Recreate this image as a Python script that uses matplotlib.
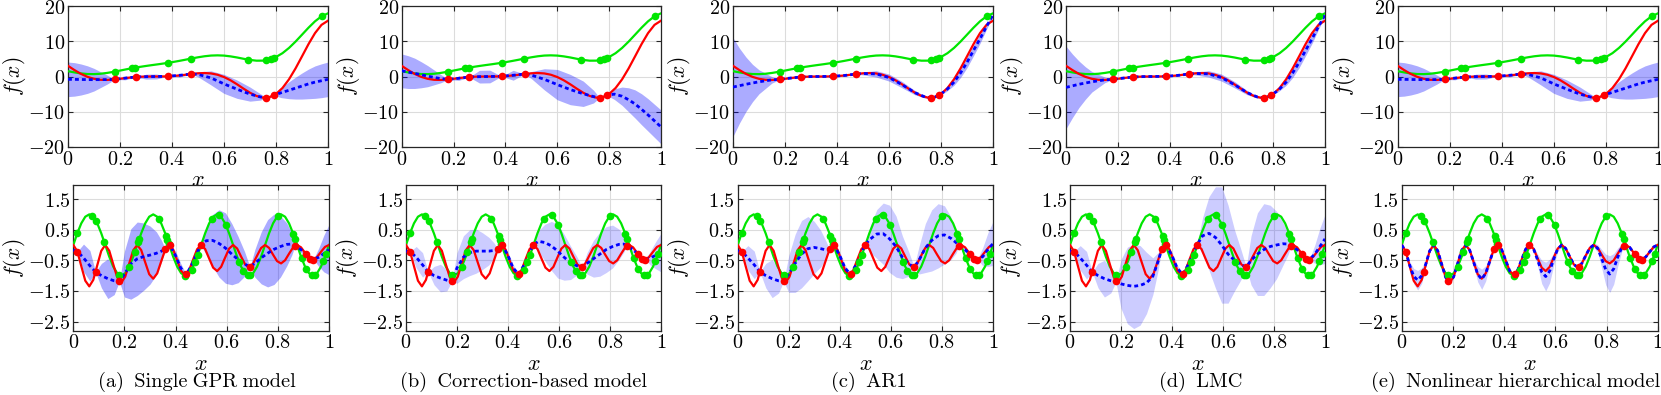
import numpy as np
import matplotlib
matplotlib.use("Agg")
import matplotlib.pyplot as plt

# ---------------- data: top row (Forrester-type example) ----------------
top_x = np.linspace(0, 1, 41)
top_high = [3.027, 1.813, 0.738, -0.100, -0.657, -0.935, -0.978, -0.854, -0.640, -0.407,
            -0.210, -0.079, -0.016, -0.000, 0.002, 0.030, 0.115, 0.270, 0.483, 0.717,
            0.909, 0.986, 0.871, 0.503, -0.149, -1.074, -2.209, -3.439, -4.606, -5.522,
            -5.993, -5.845, -4.949, -3.254, -0.799, 2.272, 5.712, 9.187, 12.303, 14.648, 15.830]
top_low = [1.51, 1.16, 0.87, 0.70, 0.67, 0.78, 1.01, 1.32, 1.68, 2.05,
           2.40, 2.71, 2.99, 3.25, 3.50, 3.77, 4.06, 4.39, 4.74, 5.11,
           5.45, 5.74, 5.94, 6.00, 5.93, 5.71, 5.40, 5.03, 4.70, 4.49,
           4.50, 4.83, 5.53, 6.62, 8.10, 9.89, 11.86, 13.84, 15.65, 17.07, 17.92]
top_low_pts_x = [0.18, 0.245, 0.258, 0.385, 0.472, 0.692, 0.763, 0.782, 0.791, 0.978]
top_low_pts_y = [1.39, 2.33, 2.50, 3.88, 5.07, 4.80, 4.63, 4.99, 5.23, 17.21]
top_high_pts_x = [0.18, 0.26, 0.385, 0.474, 0.763, 0.791]
top_high_pts_y = [-0.82, -0.15, 0.06, 0.71, -6.00, -5.36]

# predictions (mean and 2-sigma half width) for each model
top_grid = [0, 0.025, 0.05, 0.075, 0.1, 0.15, 0.18, 0.22, 0.26, 0.3, 0.34, 0.385, 0.43, 0.474,
            0.5, 0.55, 0.6, 0.65, 0.7, 0.74, 0.763, 0.777, 0.791, 0.82, 0.85, 0.875, 0.9,
            0.925, 0.95, 0.975, 1.0]
top_mean_a = [-0.80, -0.82, -0.85, -0.88, -0.90, -0.88, -0.82, -0.45, -0.15, -0.05, 0.00, 0.06,
              0.35, 0.71, 0.60, -0.40, -2.10, -3.60, -5.00, -5.80, -6.00, -5.80, -5.36, -4.60,
              -3.90, -3.30, -2.70, -2.10, -1.60, -1.20, -0.80]
top_hw_a = [4.9, 4.75, 4.4, 3.9, 3.2, 1.3, 0.0, 0.5, 0.0, 0.7, 0.7, 0.0, 0.5, 0.0, 0.7, 2.0,
            2.7, 2.6, 2.0, 0.9, 0.0, 0.15, 0.0, 1.4, 2.4, 3.1, 3.7, 4.2, 4.6, 4.8, 4.9]
top_mean_b = [1.60, 1.25, 0.90, 0.50, 0.10, -0.60, -0.82, -0.50, -0.15, -0.05, 0.00, 0.06,
              0.35, 0.71, 0.40, -0.80, -2.30, -3.70, -4.90, -5.70, -6.00, -5.80, -5.36, -5.00,
              -5.60, -6.60, -7.80, -9.30, -10.90, -12.60, -14.30]
top_hw_b = [4.8, 4.65, 4.3, 3.7, 3.0, 1.2, 0.0, 0.6, 0.0, 1.8, 1.8, 0.0, 1.4, 0.0, 1.0, 3.0,
            4.3, 4.3, 3.6, 1.8, 0.0, 0.3, 0.0, 1.5, 2.6, 3.4, 4.0, 4.4, 4.6, 4.7, 4.8]
top_mean_c = [-3.00, -2.60, -2.20, -1.85, -1.50, -0.95, -0.82, -0.45, -0.15, -0.02, 0.00, 0.06,
              0.30, 0.71, 0.85, 0.75, -0.30, -2.30, -4.60, -5.85, -6.00, -5.80, -5.36, -3.90,
              -1.60, 1.00, 4.00, 7.40, 10.70, 14.20, 17.50]
top_hw_c = [14.0, 10.6, 7.7, 5.3, 3.4, 0.9, 0.05, 0.25, 0.05, 0.25, 0.25, 0.05, 0.25, 0.05,
            0.4, 0.9, 1.0, 0.9, 0.6, 0.3, 0.05, 0.1, 0.05, 0.4, 0.9, 1.3, 1.5, 1.5, 1.3, 0.8, 0.3]
top_mean_d = [-3.10, -2.65, -2.20, -1.85, -1.50, -0.95, -0.82, -0.45, -0.15, -0.02, 0.00, 0.06,
              0.30, 0.71, 0.85, 0.75, -0.30, -2.30, -4.60, -5.85, -6.00, -5.80, -5.36, -3.90,
              -1.60, 1.00, 4.00, 7.40, 10.70, 14.20, 17.50]
top_hw_d = [11.7, 9.0, 6.6, 4.6, 2.9, 0.8, 0.05, 0.25, 0.05, 0.25, 0.25, 0.05, 0.25, 0.05,
            0.4, 0.9, 1.0, 0.9, 0.6, 0.3, 0.05, 0.1, 0.05, 0.4, 0.9, 1.3, 1.5, 1.5, 1.3, 0.8, 0.3]
top_mean_e = [-0.80, -0.82, -0.85, -0.88, -0.90, -0.88, -0.82, -0.45, -0.15, -0.05, 0.00, 0.06,
              0.35, 0.71, 0.60, -0.40, -2.10, -3.60, -5.00, -5.80, -6.00, -5.80, -5.36, -4.60,
              -3.90, -3.30, -2.70, -2.10, -1.60, -1.20, -0.80]
top_hw_e = [4.9, 4.75, 4.4, 3.9, 3.2, 1.3, 0.0, 0.5, 0.0, 0.7, 0.7, 0.0, 0.5, 0.0, 0.7, 2.0,
            2.7, 2.6, 2.0, 0.9, 0.0, 0.15, 0.0, 1.4, 2.4, 3.1, 3.7, 4.2, 4.6, 4.8, 4.9]

# ---------------- data: bottom row (periodic example) ----------------
bot_x = np.linspace(0, 1, 65)
bot_low = [0, 0.3827, 0.7071, 0.9239, 1, 0.9239, 0.7071, 0.3827,
           0, -0.3827, -0.7071, -0.9239, -1, -0.9239, -0.7071, -0.3827,
           0, 0.3827, 0.7071, 0.9239, 1, 0.9239, 0.7071, 0.3827,
           0, -0.3827, -0.7071, -0.9239, -1, -0.9239, -0.7071, -0.3827,
           0, 0.3827, 0.7071, 0.9239, 1, 0.9239, 0.7071, 0.3827,
           0, -0.3827, -0.7071, -0.9239, -1, -0.9239, -0.7071, -0.3827,
           0, 0.3827, 0.7071, 0.9239, 1, 0.9239, 0.7071, 0.3827,
           0, -0.3827, -0.7071, -0.9239, -1, -0.9239, -0.7071, -0.3827, 0]
bot_high = [0, -0.2048, -0.6915, -1.1671, -1.3517, -1.1405, -0.6602, -0.1910,
            0, -0.1865, -0.6290, -1.0604, -1.2267, -1.0338, -0.5977, -0.1727,
            0, -0.1682, -0.5665, -0.9537, -1.1017, -0.9271, -0.5352, -0.1544,
            0, -0.1499, -0.5040, -0.8470, -0.9767, -0.8204, -0.4727, -0.1361,
            0, -0.1316, -0.4415, -0.7403, -0.8517, -0.7137, -0.4102, -0.1178,
            0, -0.1133, -0.3790, -0.6336, -0.7267, -0.6070, -0.3477, -0.0995,
            0, -0.0950, -0.3165, -0.5269, -0.6017, -0.5003, -0.2852, -0.0812,
            0, -0.0767, -0.2540, -0.4202, -0.4767, -0.3936, -0.2227, -0.0629, 0]
bot_low_pts_x = [0.016, 0.074, 0.089, 0.121, 0.18, 0.218, 0.241, 0.254, 0.258, 0.334, 0.363,
                 0.368, 0.374, 0.437, 0.463, 0.476, 0.487, 0.541, 0.571, 0.597, 0.649, 0.665,
                 0.684, 0.691, 0.799, 0.860, 0.867, 0.893, 0.910, 0.932, 0.945, 0.978, 0.988]
bot_low_pts_y = [0.391, 0.9585, 0.7856, 0.1003, -0.9823, -0.7187, -0.2237, 0.1003, 0.1997,
                 0.8580, 0.2970, 0.1754, 0.0252, -1.0000, -0.8024, -0.5686, -0.3193, 0.8576,
                 0.9773, 0.6468, -0.5702, -0.8453, -0.9962, -0.9959, 0.9430, 0.3683, 0.1998,
                 -0.4374, -0.7697, -0.9904, -0.9819, -0.5265, -0.2959]
bot_high_pts_x = [0.016, 0.087, 0.18, 0.36, 0.378, 0.442, 0.498, 0.691, 0.867, 0.91, 0.926, 0.939]
bot_high_pts_y = [-0.214, -0.884, -1.191, -0.143, -0.006, -0.960, -0.002, -0.717, -0.022,
                  -0.299, -0.450, -0.475]

bot_grid = [0, 0.016, 0.04, 0.065, 0.087, 0.11, 0.135, 0.16, 0.18, 0.2, 0.225, 0.25, 0.275,
            0.3, 0.325, 0.345, 0.36, 0.378, 0.4, 0.42, 0.442, 0.46, 0.48, 0.498, 0.52, 0.545,
            0.57, 0.595, 0.62, 0.645, 0.67, 0.691, 0.71, 0.735, 0.76, 0.785, 0.81, 0.835,
            0.855, 0.867, 0.89, 0.91, 0.926, 0.939, 0.96, 0.98, 1.0]
bot_mean_a = [-0.17, -0.21, -0.42, -0.68, -0.88, -1.00, -1.10, -1.17, -1.19, -0.95, -0.62, -0.45,
              -0.38, -0.33, -0.27, -0.20, -0.14, -0.01, -0.35, -0.75, -0.96, -0.70, -0.35, 0.00,
              0.14, 0.15, 0.05, -0.10, -0.30, -0.48, -0.62, -0.72, -0.60, -0.42, -0.27, -0.14,
              -0.05, 0.02, 0.03, -0.02, -0.15, -0.30, -0.45, -0.47, -0.40, -0.28, -0.15]
bot_hw_a = [0.15, 0.0, 0.45, 0.5, 0.0, 0.4, 0.65, 0.45, 0.0, 0.75, 1.15, 1.2, 1.1, 0.95, 0.7,
            0.35, 0.0, 0.0, 0.15, 0.15, 0.0, 0.1, 0.1, 0.0, 0.45, 0.85, 1.1, 1.15, 1.0, 0.75,
            0.4, 0.0, 0.45, 0.85, 1.1, 1.15, 1.0, 0.7, 0.35, 0.0, 0.1, 0.0, 0.0, 0.0, 0.3, 0.6, 0.82]
bot_mean_b = [-0.21, -0.21, -0.40, -0.65, -0.88, -1.00, -1.08, -1.15, -1.19, -0.75, -0.40, -0.25,
              -0.20, -0.20, -0.20, -0.18, -0.14, -0.01, -0.35, -0.75, -0.96, -0.70, -0.35, 0.00,
              0.12, 0.08, -0.03, -0.20, -0.40, -0.58, -0.68, -0.72, -0.60, -0.45, -0.30, -0.15,
              -0.05, 0.02, 0.03, -0.02, -0.15, -0.30, -0.45, -0.47, -0.42, -0.33, -0.25]
bot_hw_b = [0.12, 0.0, 0.35, 0.4, 0.0, 0.3, 0.45, 0.35, 0.0, 0.5, 0.7, 0.75, 0.72, 0.6, 0.45,
            0.25, 0.0, 0.0, 0.12, 0.12, 0.0, 0.1, 0.1, 0.0, 0.35, 0.6, 0.8, 0.88, 0.75, 0.55,
            0.3, 0.0, 0.35, 0.6, 0.72, 0.75, 0.7, 0.5, 0.25, 0.0, 0.1, 0.0, 0.0, 0.0, 0.25, 0.45, 0.63]
bot_mean_c = [-0.20, -0.21, -0.42, -0.65, -0.88, -1.00, -1.10, -1.17, -1.19, -0.95, -0.60, -0.30,
              -0.12, -0.08, -0.12, -0.16, -0.14, -0.01, -0.35, -0.75, -0.96, -0.70, -0.35, 0.00,
              0.20, 0.36, 0.37, 0.20, -0.05, -0.40, -0.62, -0.72, -0.50, -0.10, 0.15, 0.30,
              0.33, 0.22, 0.08, -0.02, -0.15, -0.30, -0.45, -0.47, -0.38, -0.15, 0.05]
bot_hw_c = [0.12, 0.0, 0.4, 0.45, 0.0, 0.4, 0.62, 0.4, 0.0, 0.6, 0.95, 1.1, 1.05, 0.85, 0.6,
            0.3, 0.0, 0.0, 0.12, 0.12, 0.0, 0.1, 0.1, 0.0, 0.45, 0.8, 1.0, 1.1, 1.0, 0.7,
            0.4, 0.0, 0.45, 0.8, 1.0, 1.05, 0.95, 0.7, 0.35, 0.0, 0.1, 0.0, 0.0, 0.0, 0.3, 0.55, 0.72]
bot_mean_d = [-0.20, -0.21, -0.42, -0.66, -0.88, -1.00, -1.10, -1.17, -1.21, -1.27, -1.32, -1.35,
              -1.32, -1.24, -1.02, -0.55, -0.14, -0.01, -0.35, -0.75, -0.96, -0.70, -0.35, 0.00,
              0.30, 0.38, 0.25, 0.00, -0.30, -0.50, -0.64, -0.72, -0.50, -0.30, -0.15, -0.05,
              0.00, 0.04, 0.03, -0.02, -0.15, -0.30, -0.45, -0.47, -0.30, -0.05, 0.20]
bot_hw_d = [0.12, 0.0, 0.4, 0.45, 0.0, 0.4, 0.6, 0.4, 0.0, 0.8, 1.25, 1.38, 1.3, 1.0, 0.6,
            0.3, 0.0, 0.0, 0.12, 0.12, 0.0, 0.1, 0.1, 0.0, 0.6, 1.2, 1.65, 1.9, 1.6, 1.0,
            0.5, 0.0, 0.8, 1.35, 1.5, 1.35, 1.1, 0.7, 0.35, 0.0, 0.1, 0.0, 0.0, 0.0, 0.3, 0.6, 0.8]
# nonlinear hierarchical model, read on the finer grid of bot_x
bot_mean_e = [0, -0.205, -0.66, -1.02, -1.15, -1.00, -0.63, -0.19,
              0, -0.187, -0.629, -1.060, -1.227, -1.034, -0.598, -0.173,
              0, -0.168, -0.567, -0.954, -1.12, -0.927, -0.535, -0.154,
              0, -0.150, -0.504, -0.847, -0.977, -0.820, -0.473, -0.136,
              0, -0.14, -0.50, -0.88, -1.03, -0.85, -0.46, -0.13,
              0, -0.113, -0.379, -0.634, -0.727, -0.607, -0.348, -0.100,
              0, -0.11, -0.45, -0.80, -0.95, -0.78, -0.40, -0.09,
              0, -0.077, -0.254, -0.420, -0.477, -0.394, -0.223, -0.063, 0]
bot_hw_e = [0.05, 0.02, 0.12, 0.25, 0.32, 0.25, 0.10, 0.04,
            0.04, 0.04, 0.04, 0.02, 0.04, 0.05, 0.05, 0.04,
            0.05, 0.06, 0.12, 0.25, 0.33, 0.25, 0.12, 0.04,
            0.02, 0.03, 0.04, 0.03, 0.02, 0.03, 0.04, 0.03,
            0.02, 0.08, 0.20, 0.38, 0.47, 0.38, 0.20, 0.08,
            0.05, 0.05, 0.05, 0.04, 0.02, 0.04, 0.05, 0.06,
            0.07, 0.12, 0.30, 0.50, 0.60, 0.50, 0.30, 0.12,
            0.03, 0.04, 0.03, 0.02, 0.02, 0.03, 0.05, 0.06, 0.07]

captions = ['(a)  Single GPR model', '(b)  Correction-based model', '(c)  AR1',
            '(d)  LMC', '(e)  Nonlinear hierarchical model']
caption_centers = [197, 524, 869, 1201, 1516]

# ---------------- style ----------------
plt.rcParams['mathtext.fontset'] = 'cm'
GREEN = '#00e600'
RED = '#ff0000'
BLUE = '#0000ff'
W, H = 1661, 395

top_left = [68, 401.7, 733, 1066, 1397.7]
top_w = [260, 259.3, 260, 259, 260.3]
bot_left = [73.3, 406, 737.7, 1070, 1401.7]
bot_w = [255.7, 255, 255.3, 255, 256]

x_ticks = [0, 0.2, 0.4, 0.6, 0.8, 1]
x_tick_labels = ['$0$', '$0.2$', '$0.4$', '$0.6$', '$0.8$', '$1$']
top_yticks = [-20, -10, 0, 10, 20]
top_ytick_labels = ['$-20$', '$-10$', '$0$', '$10$', '$20$']
bot_yticks = [-2.5, -1.5, -0.5, 0.5, 1.5]
bot_ytick_labels = ['$-2.5$', '$-1.5$', '$-0.5$', '$0.5$', '$1.5$']


def style_axes(ax, yticks, ylabels, ylim):
    ax.set_xlim(0, 1)
    ax.set_ylim(*ylim)
    ax.set_xticks(x_ticks, labels=x_tick_labels)
    ax.set_yticks(yticks, labels=ylabels)
    ax.tick_params(direction='in', top=True, right=True, length=3.5, width=0.8,
                   labelsize=14.5, pad=2, colors='#262626', labelcolor='black')
    ax.grid(True, color='#dcdcdc', linewidth=0.8)
    ax.set_axisbelow(True)
    for sp in ax.spines.values():
        sp.set_color('#262626')
        sp.set_linewidth(0.9)
    ax.set_xlabel('$x$', fontsize=16, labelpad=1)
    ax.set_ylabel('$f(x)$', fontsize=15.5, labelpad=0)


def draw(ax, cx, low, high, lpx, lpy, hpx, hpy, gx, mean, hw, alpha):
    mean = np.asarray(mean)
    hw = np.asarray(hw)
    ax.fill_between(gx, mean - hw, mean + hw, color=BLUE, alpha=alpha, linewidth=0, zorder=2)
    ax.plot(cx, low, color=GREEN, lw=1.6, zorder=3)
    ax.plot(cx, high, color=RED, lw=1.6, zorder=4)
    ax.plot(gx, mean, color=BLUE, lw=2.0, linestyle=(0, (1.4, 1.1)), zorder=5)
    ax.plot(lpx, lpy, 'o', color=GREEN, ms=5.5, mew=0, zorder=6)
    ax.plot(hpx, hpy, 'o', color=RED, ms=5.5, mew=0, zorder=7)


fig = plt.figure(figsize=(W / 100, H / 100), dpi=100)

top_means = [top_mean_a, top_mean_b, top_mean_c, top_mean_d, top_mean_e]
top_hws = [top_hw_a, top_hw_b, top_hw_c, top_hw_d, top_hw_e]
bot_means = [bot_mean_a, bot_mean_b, bot_mean_c, bot_mean_d, bot_mean_e]
bot_hws = [bot_hw_a, bot_hw_b, bot_hw_c, bot_hw_d, bot_hw_e]
bot_grids = [bot_grid, bot_grid, bot_grid, bot_grid, bot_x]
bot_alpha = [0.33, 0.2, 0.2, 0.2, 0.2]

for i in range(5):
    ax = fig.add_axes([top_left[i] / W, (H - 147) / H, top_w[i] / W, 141 / H])
    draw(ax, top_x, top_low, top_high, top_low_pts_x, top_low_pts_y,
         top_high_pts_x, top_high_pts_y, top_grid, top_means[i], top_hws[i], 0.33)
    style_axes(ax, top_yticks, top_ytick_labels, (-20, 20))

    ax = fig.add_axes([bot_left[i] / W, (H - 330.7) / H, bot_w[i] / W, 145.4 / H])
    draw(ax, bot_x, bot_low, bot_high, bot_low_pts_x, bot_low_pts_y,
         bot_high_pts_x, bot_high_pts_y, bot_grids[i], bot_means[i], bot_hws[i], bot_alpha[i])
    style_axes(ax, bot_yticks, bot_ytick_labels, (-2.8, 1.95))

    # cmr10 has no usable space glyph, so spaces come from the fallback family
    txt = captions[i].replace(' ', '\u2005')
    fig.text(caption_centers[i] / W, (H - 382) / H, txt, ha='center', va='center',
             fontsize=14.7, family=['cmr10', 'DejaVu Serif'])

fig.savefig('out.png', dpi=100)
